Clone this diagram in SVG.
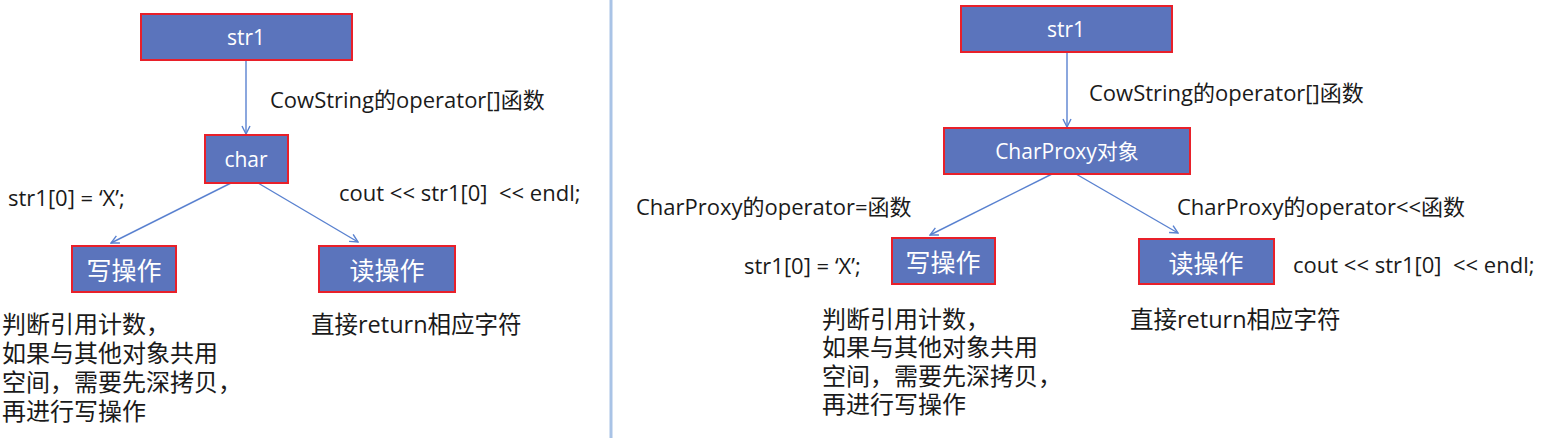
<svg xmlns="http://www.w3.org/2000/svg" width="1550" height="438" viewBox="0 0 1550 438">
<style>
.box{fill:#5b74bc;stroke:#e8202a;stroke-width:2}
.bt{fill:#ffffff;font-family:"Open Sans","Noto Sans CJK SC",sans-serif;font-size:21px;text-anchor:middle;dominant-baseline:central}
.bc{fill:#ffffff;font-family:"Noto Sans CJK SC",sans-serif;font-size:25px;text-anchor:middle;dominant-baseline:central}
.lb{fill:#1a1a1a;font-family:"Open Sans","Noto Sans CJK SC",sans-serif;font-size:22px;white-space:pre}
.pg{fill:#1a1a1a;font-family:"Open Sans","Noto Sans CJK SC",sans-serif;font-size:24px}
.pr{fill:#1a1a1a;font-family:"Open Sans","Noto Sans CJK SC",sans-serif;font-size:23.5px}
.cn{stroke:#5a82d0;stroke-width:1.4;fill:none;marker-end:url(#ah)}
</style>
<defs>
<marker id="ah" viewBox="0 0 10 10" refX="9" refY="5" markerWidth="10" markerHeight="10" markerUnits="userSpaceOnUse" orient="auto">
<path d="M1,1 L9,5 L1,9" fill="none" stroke="#5a82d0" stroke-width="1.4"/>
</marker>
</defs>
<rect x="0" y="0" width="1550" height="438" fill="#ffffff"/>
<line x1="611" y1="0" x2="611" y2="438" stroke="#a9c3e6" stroke-width="3"/>
<g id="connectors">
<line class="cn" x1="246" y1="60" x2="246" y2="134"/>
<line class="cn" x1="231" y1="183" x2="111" y2="243"/>
<line class="cn" x1="258" y1="183" x2="358" y2="242"/>
<line class="cn" x1="1067" y1="52" x2="1067" y2="127"/>
<line class="cn" x1="1052" y1="174" x2="930" y2="235"/>
<line class="cn" x1="1076" y1="174" x2="1178" y2="233"/>
</g>
<g id="l-str1"><rect class="box" x="141" y="14" width="211" height="46"/><text class="bt" x="246" y="37">str1</text></g>
<g id="l-char"><rect class="box" x="205" y="135" width="83" height="48"/><text class="bt" x="246" y="159">char</text></g>
<g id="l-write"><rect class="box" x="72" y="246" width="104" height="46"/><text class="bc" x="124" y="269">写操作</text></g>
<g id="l-read"><rect class="box" x="319" y="246" width="136" height="46"/><text class="bc" x="387" y="269">读操作</text></g>
<g id="l-labels">
<text class="lb" x="270" y="108">CowString的operator[]函数</text>
<text class="lb" x="8" y="206">str1[0] = ‘X’;</text>
<text class="lb" x="339" y="201" xml:space="preserve">cout &lt;&lt; str1[0]  &lt;&lt; endl;</text>
<text class="pg" x="2" y="333">判断引用计数，<tspan x="2" dy="29">如果与其他对象共用</tspan><tspan x="2" dy="29">空间，需要先深拷贝，</tspan><tspan x="2" dy="29">再进行写操作</tspan></text>
<text class="pr" x="311" y="333">直接return相应字符</text>
</g>
<g id="r-str1"><rect class="box" x="961" y="6" width="211" height="46"/><text class="bt" x="1066" y="29">str1</text></g>
<g id="r-proxy"><rect class="box" x="944" y="128" width="246" height="46"/><text class="bt" x="1067" y="151">CharProxy对象</text></g>
<g id="r-write"><rect class="box" x="892" y="238" width="103" height="46"/><text class="bc" x="943" y="261">写操作</text></g>
<g id="r-read"><rect class="box" x="1139" y="239" width="135" height="45"/><text class="bc" x="1206" y="262">读操作</text></g>
<g id="r-labels">
<text class="lb" x="1089" y="101">CowString的operator[]函数</text>
<text class="lb" x="636" y="215">CharProxy的operator=函数</text>
<text class="lb" x="1177" y="215">CharProxy的operator&lt;&lt;函数</text>
<text class="lb" x="744" y="274">str1[0] = ‘X’;</text>
<text class="lb" x="1293" y="273" xml:space="preserve">cout &lt;&lt; str1[0]  &lt;&lt; endl;</text>
<text class="pg" x="822" y="328">判断引用计数，<tspan x="822" dy="28.3">如果与其他对象共用</tspan><tspan x="822" dy="28.3">空间，需要先深拷贝，</tspan><tspan x="822" dy="28.3">再进行写操作</tspan></text>
<text class="pr" x="1130" y="328">直接return相应字符</text>
</g>
</svg>
